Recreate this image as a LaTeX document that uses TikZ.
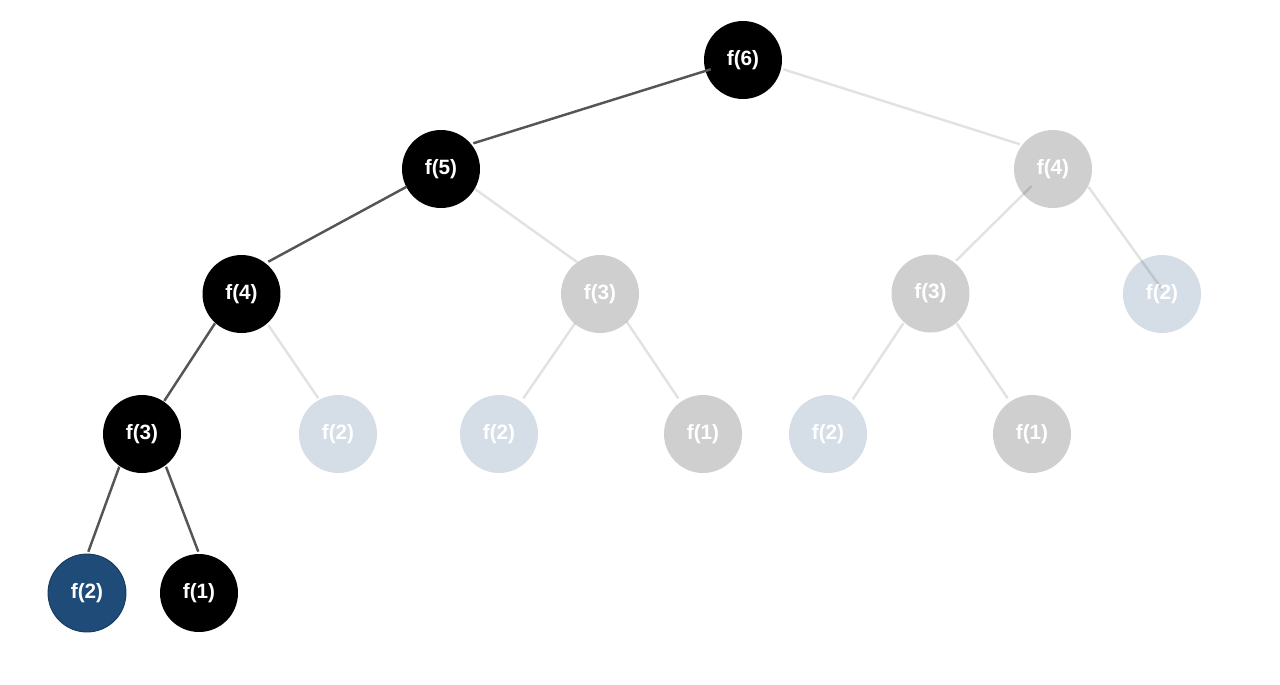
\documentclass[tikz,border=0pt]{standalone}
\usepackage{fontspec}
\setmainfont{Liberation Sans}
\definecolor{bblue}{HTML}{1E4B78}
\definecolor{darkline}{HTML}{555555}
\definecolor{lightline}{HTML}{E2E2E2}
\pgfdeclarelayer{bg}
\pgfdeclarelayer{fg}
\pgfsetlayers{bg,main,fg}
\tikzset{
  fnode/.style={circle, minimum size=1.56cm, inner sep=0pt, text=white,
    font=\bfseries\fontsize{11.8}{13}\selectfont},
  darknode/.style={fnode, fill=black},
  bluenode/.style={fnode, fill=bblue, draw=bblue!75!black, line width=0.5pt},
  fadednode/.style={fnode, fill=black, fill opacity=0.19, text opacity=1},
  fadedblue/.style={fnode, fill=bblue, fill opacity=0.19, text opacity=1},
  darkedge/.style={draw=darkline, line width=1.4pt},
  lightedge/.style={draw=lightline, line width=1.4pt},
}
\begin{document}
\begin{tikzpicture}[x=0.02cm, y=-0.02cm]
\useasboundingbox (0,0) rectangle (1280,684);
% nodes
\node[darknode]  (n6)  at (743,60)     {f(6)};
\node[darknode]  (n5)  at (441,169)    {f(5)};
\node[fadednode] (n4r) at (1053,169)   {f(4)};
\node[darknode]  (n4l) at (241.5,294)  {f(4)};
\node[fadednode] (n3m) at (600,294)    {f(3)};
\node[fadednode] (n3r) at (930.5,293.5){f(3)};
\node[fadedblue] (n2rr) at (1162,294)  {f(2)};
\node[darknode]  (n3l) at (142,434)    {f(3)};
\node[fadedblue] (n2a) at (338,434)    {f(2)};
\node[fadedblue] (n2b) at (499,434)    {f(2)};
\node[fadednode] (n1a) at (703,434)    {f(1)};
\node[fadedblue] (n2c) at (828,434)    {f(2)};
\node[fadednode] (n1b) at (1032,434)   {f(1)};
\node[bluenode]  (n2blue) at (87,593)  {f(2)};
\node[darknode]  (n1c) at (199,593)    {f(1)};
% light edges (under nodes)
\begin{pgfonlayer}{bg}
\draw[lightedge] ([shift={(40.3,9.3)}]n6.center) -- ([shift={(-33,-24.7)}]n4r.center);
\draw[lightedge] ([shift={(34,20)}]n5.center) -- ([shift={(-23,-32)}]n3m.center);
\draw[lightedge] ([shift={(26.8,31)}]n4l.center) -- ([shift={(-19.7,-35.7)}]n2a.center);
\draw[lightedge] ([shift={(-25,29.3)}]n3m.center) -- ([shift={(24.3,-35.7)}]n2b.center);
\draw[lightedge] ([shift={(26.7,27.7)}]n3m.center) -- ([shift={(-24.7,-35.7)}]n1a.center);
\draw[lightedge] ([shift={(-21.3,17)}]n4r.center) -- ([shift={(25.5,-32.8)}]n3r.center);
\draw[lightedge] ([shift={(35.3,17.7)}]n4r.center) -- ([shift={(0.5,-4)}]n2rr.center);
\draw[lightedge] ([shift={(-27.2,29.8)}]n3r.center) -- ([shift={(24.7,-34.7)}]n2c.center);
\draw[lightedge] ([shift={(26.2,29.8)}]n3r.center) -- ([shift={(-24.3,-35.7)}]n1b.center);
\end{pgfonlayer}
% dark edges (over nodes)
\begin{pgfonlayer}{fg}
\draw[darkedge] ([shift={(-32.3,9.3)}]n6.center) -- ([shift={(32.3,-25.7)}]n5.center);
\draw[darkedge] ([shift={(-34.3,17.7)}]n5.center) -- ([shift={(26.8,-32.3)}]n4l.center);
\draw[darkedge] ([shift={(-26.5,29.3)}]n4l.center) -- ([shift={(22.3,-33.1)}]n3l.center);
\draw[darkedge] ([shift={(-22.7,32.7)}]n3l.center) -- ([shift={(1.3,-41.3)}]n2blue.center);
\draw[darkedge] ([shift={(24,32.7)}]n3l.center) -- ([shift={(-0.7,-41.3)}]n1c.center);
\end{pgfonlayer}
\end{tikzpicture}
\end{document}
